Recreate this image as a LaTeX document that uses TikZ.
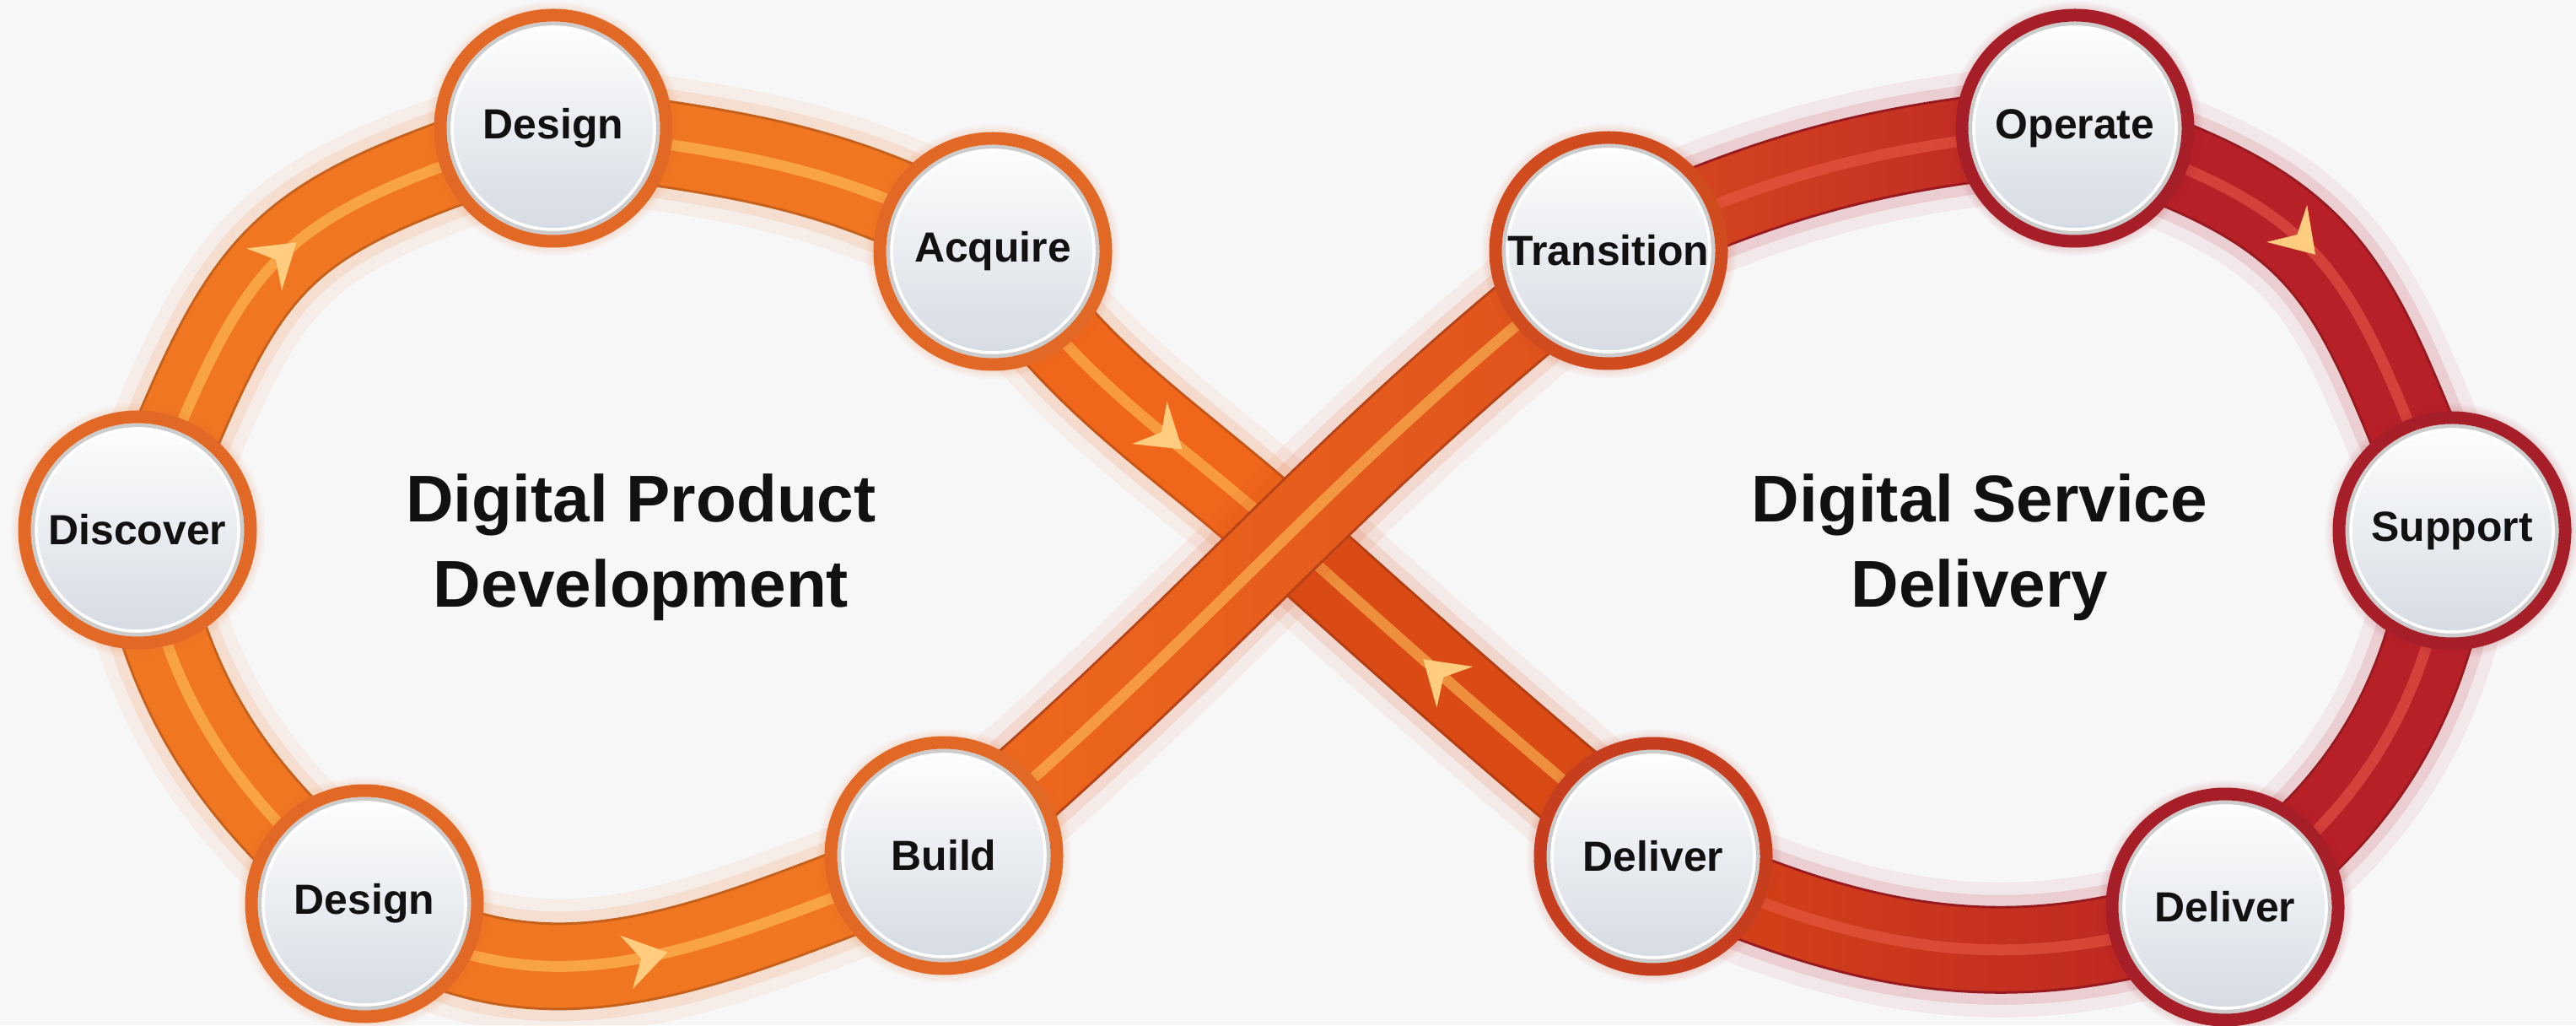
\documentclass[tikz,border=0pt]{standalone}
\usepackage{fontspec}
\setmainfont{Liberation Sans}
\usetikzlibrary{arrows.meta,decorations.markings,shadows,fadings}

\definecolor{bgcol}{RGB}{247,247,248}
\definecolor{orangeband}{RGB}{241,118,34}
\definecolor{orangering}{RGB}{226,104,38}
\definecolor{orangehi}{RGB}{255,200,96}
\definecolor{crossband}{RGB}{240,102,26}
\definecolor{deepband}{RGB}{218,74,20}
\definecolor{buildband}{RGB}{240,108,28}
\definecolor{transband}{RGB}{222,80,28}
\definecolor{redband}{RGB}{184,32,40}
\definecolor{redring}{RGB}{166,30,40}
\definecolor{redhi}{RGB}{236,92,74}
\definecolor{transring}{RGB}{208,76,30}
\definecolor{midring}{RGB}{198,62,30}
\definecolor{tipcol}{RGB}{255,204,128}
\definecolor{ink}{RGB}{17,17,17}
\definecolor{discbot}{RGB}{212,218,226}

\pgfdeclarelayer{canvas}
\pgfdeclarelayer{back}
\pgfsetlayers{canvas,back,main}

\tikzfading[name=fadeeast, left color=transparent!0, right color=transparent!100]

\tikzset{
    stage/.style={circle, minimum size=2.68cm, inner sep=0pt, draw=#1, line width=1.5mm,
        top color=white, bottom color=discbot, text=ink,
        font=\fontsize{14.2}{17}\selectfont\bfseries,
        circular drop shadow={shadow xshift=0pt, shadow yshift=0pt, shadow scale=1.13, fill=#1, opacity=0.35},
        path picture={
            \draw[gray!40, line width=1.4pt] (path picture bounding box.center) circle (1.24cm);
            \draw[white, line width=1pt] (path picture bounding box.center) circle (1.20cm);}},
    band/.style 2 args={draw=#1, line width=9.8mm,
        preaction={draw=#1, line width=16mm, opacity=0.07},
        preaction={draw=#1, line width=13mm, opacity=0.12},
        preaction={draw=#1!82!black, line width=10.4mm},
        postaction={draw=#2, line width=1.3mm, opacity=0.55}},
    blend/.style n args={3}{draw=#1, line width=9.8mm,
        preaction={draw=#1, line width=16mm, opacity=0.07},
        preaction={draw=#1, line width=13mm, opacity=0.12},
        preaction={draw=#1!82!black, line width=10.4mm},
        postaction={draw=#2, line width=9.8mm, path fading=fadeeast},
        postaction={draw=#3, line width=1.3mm, opacity=0.55}},
    flow/.style={postaction={decorate, decoration={markings,
        mark=at position #1 with {\arrow[line width=0.5pt]{Stealth[length=5mm, width=6.5mm, inset=1.8mm, color=tipcol]}}}}},
    backflow/.style={postaction={decorate, decoration={markings,
        mark=at position #1 with {\arrowreversed[line width=0.5pt]{Stealth[length=5mm, width=6.5mm, inset=1.8mm, color=tipcol]}}}}},
    title/.style={align=center, text=ink, font=\fontsize{22.3}{28.7}\selectfont\bfseries}
}

\begin{document}
\begin{tikzpicture}
        \useasboundingbox (0,0) rectangle (30.54,12.15);
        \begin{pgfonlayer}{canvas}
        \fill[bgcol] (0,0) rectangle (30.54,12.15);
        \end{pgfonlayer}

        \node[stage=orangering] (dtop) at (6.56,10.63) {Design};
        \node[stage=orangering] (acq) at (11.77,9.17) {Acquire};
        \node[stage=orangering] (disc) at (1.63,5.87) {Discover};
        \node[stage=orangering] (dbot) at (4.32,1.44) {Design};
        \node[stage=orangering] (build) at (11.19,2.01) {Build};
        \node[stage=transring] (trans) at (19.07,9.18) {Transition};
        \node[stage=redring] (oper) at (24.60,10.63) {Operate};
        \node[stage=redring] (supp) at (29.07,5.86) {Support};
        \node[stage=redring] (delr) at (26.38,1.40) {Deliver};
        \node[stage=midring] (delm) at (19.60,2.00) {Deliver};
        \coordinate (cross) at (15.30,5.74);

        \node[title] (dpd) at (7.60,5.66) {Digital Product\\Development};
        \node[title] (dsd) at (23.47,5.66) {Digital Service\\Delivery};

        \begin{pgfonlayer}{back}
        % left loop
        \draw[band={orangeband}{orangehi}, flow=0.54] (disc.center) to[out=68, in=198, looseness=1.35] (dtop.center);
        \draw[band={orangeband}{orangehi}] (dtop.center) to[out=-8, in=150] (acq.center);
        \draw[band={orangeband}{orangehi}] (disc.center) to[out=-80, in=140] (dbot.center);
        \draw[band={orangeband}{orangehi}, flow=0.52] (dbot.center) to[out=-35, in=200] (build.center);
        % under strand
        \draw[band={crossband}{orangehi}, flow=0.66] (acq.center) to[out=-56, in=138] (cross);
        \draw[band={deepband}{orangehi}, backflow=0.37] (cross) to[out=-42, in=140] (delm.center);
        % right loop
        \draw[blend={redband}{transband}{redhi}] (trans.center) to[out=25, in=185] (oper.center);
        \draw[band={redband}{redhi}, flow=0.47] (oper.center) to[out=-18, in=112, looseness=1.3] (supp.center);
        \draw[band={redband}{redhi}] (supp.center) to[out=-98, in=35] (delr.center);
        \draw[blend={redband}{deepband}{redhi}] (delr.center) to[out=200, in=-25] (delm.center);
        % over strand
        \draw[blend={transband}{buildband}{orangehi}] (build.center) to[out=40, in=218] (trans.center);
        \end{pgfonlayer}
\end{tikzpicture}
\end{document}
